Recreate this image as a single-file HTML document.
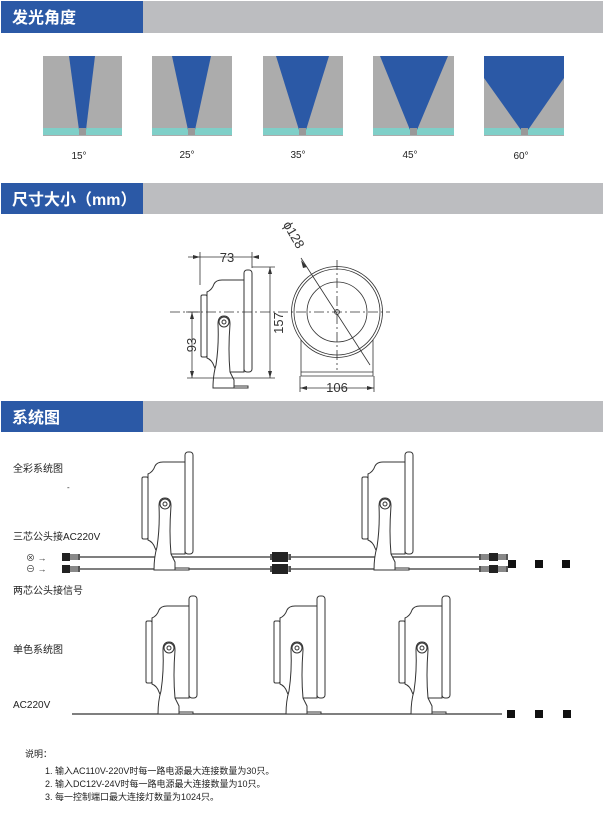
<!DOCTYPE html>
<html><head><meta charset="utf-8"><style>
body{margin:0;background:#fff;}
svg{display:block;font-family:"Liberation Sans","Noto Sans CJK SC",sans-serif;}
</style></head><body>
<svg width="605" height="833" viewBox="0 0 605 833" xmlns="http://www.w3.org/2000/svg">
<defs>
<g id="lamp" fill="#fff" stroke="#333" stroke-width="1">
  <path d="M-37 12 Q-32 10 -30 4 Q-28 0 -22 0 L0 0 L0 92 L-22 92 Q-28 92 -30 86 Q-32 80 -37 78 Z"/>
  <rect x="-43" y="15" width="6" height="62" rx="1.5"/>
  <rect x="0" y="-10" width="8" height="102" rx="3"/>
  <path d="M-26 44 Q-26 36 -20 36 Q-14 36 -14 44 Q-16 70 -14 92 L-10 100 L-10 108 L-31 108 Q-31 95 -28 85 Q-25 65 -26 44 Z"/>
  <circle cx="-20" cy="42" r="5"/><circle cx="-20" cy="42" r="2"/>
  <rect x="-10" y="106" width="14" height="2"/>
</g>
<g id="conn" fill="#222">
  <rect x="0" y="-4" width="8" height="8"/>
  <rect x="8" y="-3" width="10" height="6" fill="#555"/>
  <path d="M9 -3v6M11 -3v6M13 -3v6M15 -3v6" stroke="#fff" stroke-width="0.6"/>
</g>
</defs>

<!-- headers -->
<rect x="1" y="1" width="142" height="32" fill="#2b59a6"/><rect x="143" y="1" width="460" height="32" fill="#bcbdc0"/>
<text x="12" y="23" fill="#fff" font-size="16" font-weight="bold">发光角度</text>
<rect x="1" y="183" width="142" height="31" fill="#2b59a6"/><rect x="143" y="183" width="460" height="31" fill="#bcbdc0"/>
<text x="12" y="205" fill="#fff" font-size="16" font-weight="bold">尺寸大小（mm）</text>
<rect x="1" y="401" width="142" height="31" fill="#2b59a6"/><rect x="143" y="401" width="460" height="31" fill="#bcbdc0"/>
<text x="12" y="423" fill="#fff" font-size="16" font-weight="bold">系统图</text>

<!-- beam angles -->
<g>
<rect x="43" y="56" width="79" height="80" fill="#acacac"/><rect x="43" y="128" width="79" height="7" fill="#7fcfc8"/>
<polygon points="69,56 95,56 86,130 79,130" fill="#2b59a6"/><rect x="79" y="128" width="7" height="7" fill="#999"/>
<rect x="152" y="56" width="80" height="80" fill="#acacac"/><rect x="152" y="128" width="80" height="7" fill="#7fcfc8"/>
<polygon points="172,56 211,56 195,130 188,130" fill="#2b59a6"/><rect x="188" y="128" width="7" height="7" fill="#999"/>
<rect x="263" y="56" width="80" height="80" fill="#acacac"/><rect x="263" y="128" width="80" height="7" fill="#7fcfc8"/>
<polygon points="276,56 329,56 306,130 299,130" fill="#2b59a6"/><rect x="299" y="128" width="7" height="7" fill="#999"/>
<rect x="373" y="56" width="81" height="80" fill="#acacac"/><rect x="373" y="128" width="81" height="7" fill="#7fcfc8"/>
<polygon points="380,56 448,56 417,130 410,130" fill="#2b59a6"/><rect x="410" y="128" width="7" height="7" fill="#999"/>
<rect x="484" y="56" width="80" height="80" fill="#acacac"/><rect x="484" y="128" width="80" height="7" fill="#7fcfc8"/>
<polygon points="484,56 564,56 564,78 528,130 521,130 484,78" fill="#2b59a6"/><rect x="521" y="128" width="7" height="7" fill="#999"/>
</g>
<g font-size="10" text-anchor="middle" fill="#222">
<text x="79" y="159">15°</text><text x="187" y="158">25°</text><text x="298" y="158">35°</text><text x="410" y="158">45°</text><text x="521" y="159">60°</text>
</g>

<!-- dimension drawing -->
<g stroke="#333" fill="none" stroke-width="0.8">
  <use href="#lamp" transform="translate(244,280) scale(1,1)" />
  <line x1="170" y1="312" x2="390" y2="312" stroke-dasharray="10,3,2,3"/>
  <line x1="188" y1="257" x2="252" y2="257"/><line x1="200" y1="252" x2="200" y2="285"/><line x1="252" y1="252" x2="252" y2="268"/>
  <line x1="252" y1="267" x2="275" y2="267"/><line x1="270" y1="267" x2="270" y2="378"/>
  <line x1="187" y1="378" x2="275" y2="378"/>
  <line x1="186" y1="312" x2="200" y2="312"/><line x1="192" y1="312" x2="192" y2="378"/>
  <circle cx="337" cy="312" r="45.5"/><circle cx="337" cy="312" r="43"/><circle cx="337" cy="312" r="30"/><circle cx="337" cy="312" r="2.5"/>
  <line x1="337" y1="260" x2="337" y2="370" stroke-dasharray="10,3,2,3"/>
  <path d="M301 340 V376 H373 V340 M301 372 H373"/>
  <line x1="300" y1="376" x2="300" y2="392"/><line x1="374" y1="376" x2="374" y2="392"/>
  <line x1="300" y1="388" x2="374" y2="388"/>
  <line x1="301" y1="258" x2="370" y2="365"/>
</g>
<g fill="#333">
  <polygon points="200,257 193,255 193,259"/><polygon points="252,257 259,255 259,259"/>
  <polygon points="270,267 268,274 272,274"/><polygon points="270,378 268,371 272,371"/>
  <polygon points="192,312 190,319 194,319"/><polygon points="192,378 190,371 194,371"/>
  <polygon points="300,388 307,386 307,390"/><polygon points="374,388 367,386 367,390"/>
  <polygon points="307,267 301,260 303,268"/>
</g>
<g font-size="13" fill="#333" text-anchor="middle">
  <text x="227" y="262">73</text>
  <text x="337" y="392">106</text>
  <text transform="translate(283,323) rotate(-90)">157</text>
  <text transform="translate(196,345) rotate(-90)">93</text>
  <text transform="translate(290,237) rotate(60)">ϕ128</text>
</g>

<!-- full colour system -->
<g font-size="10" fill="#222">
<text x="13" y="472">全彩系统图</text>
<text x="67" y="490" font-size="8">-</text>
<text x="13" y="540">三芯公头接AC220V</text>
<text x="13" y="594">两芯公头接信号</text>
<text x="13" y="653">单色系统图</text>
<text x="13" y="708">AC220V</text>
</g>
<g font-size="9" fill="#333"><text x="26" y="561">⊗ →</text><text x="26" y="572">⊖ →</text></g>
<g stroke="#333" stroke-width="1.2">
  <line x1="80" y1="557" x2="500" y2="557"/><line x1="80" y1="569" x2="500" y2="569"/>
</g>
<use href="#lamp" transform="translate(185,462)"/>
<use href="#lamp" transform="translate(405,462)"/>
<g>
  <use href="#conn" transform="translate(62,557)"/><use href="#conn" transform="translate(62,569)"/>
  <use href="#conn" transform="translate(288,557) scale(-1,1)"/><use href="#conn" transform="translate(288,569) scale(-1,1)"/>
  <use href="#conn" transform="translate(273,557)"/><use href="#conn" transform="translate(273,569)"/>
  <rect x="272" y="552" width="16" height="10" fill="#222"/><rect x="272" y="564" width="16" height="10" fill="#222"/>
  <use href="#conn" transform="translate(497,557) scale(-1,1)"/><use href="#conn" transform="translate(497,569) scale(-1,1)"/>
  <use href="#conn" transform="translate(490,557) scale(1,1)"/><use href="#conn" transform="translate(490,569)"/>
</g>
<g fill="#111"><rect x="508" y="560" width="8" height="8"/><rect x="535" y="560" width="8" height="8"/><rect x="562" y="560" width="8" height="8"/></g>

<!-- single colour -->
<line x1="72" y1="714" x2="502" y2="714" stroke="#333" stroke-width="1.3"/>
<use href="#lamp" transform="translate(189,606)"/>
<use href="#lamp" transform="translate(317,606)"/>
<use href="#lamp" transform="translate(442,606)"/>
<g fill="#111"><rect x="507" y="710" width="8" height="8"/><rect x="535" y="710" width="8" height="8"/><rect x="563" y="710" width="8" height="8"/></g>

<g font-size="9" fill="#222">
<text x="25" y="757">说明：</text>
<text x="45" y="774">1. 输入AC110V-220V时每一路电源最大连接数量为30只。</text>
<text x="45" y="787">2. 输入DC12V-24V时每一路电源最大连接数量为10只。</text>
<text x="45" y="800">3. 每一控制端口最大连接灯数量为1024只。</text>
</g>
</svg>
</body></html>
